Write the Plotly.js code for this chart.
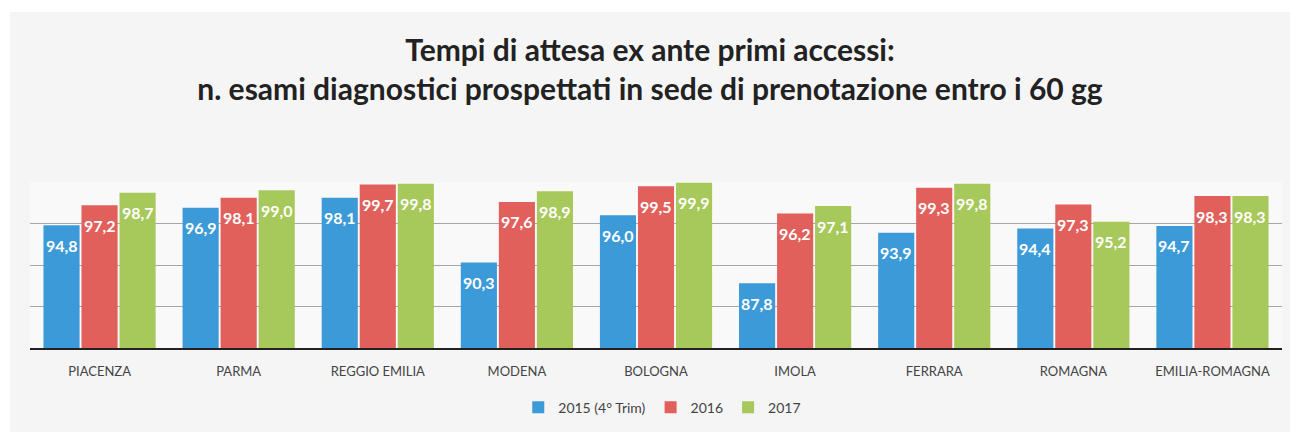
<!DOCTYPE html>
<html>
<head>
<meta charset="utf-8">
<script src="https://cdn.plot.ly/plotly-3.0.1.min.js"></script>
<style>
  html, body { margin: 0; padding: 0; background: #ffffff; width: 1290px; height: 432px; overflow: hidden; }
  #chart { position: absolute; left: 10px; top: 12px; width: 1280px; height: 420px; }
</style>
</head>
<body>
<div id="chart"></div>
<script>
const categories = ["PIACENZA", "PARMA", "REGGIO EMILIA", "MODENA", "BOLOGNA", "IMOLA", "FERRARA", "ROMAGNA", "EMILIA-ROMAGNA"];
const seriesNames = ["2015 (4° Trim)", "2016", "2017"];
const values2015 = [94.8, 96.9, 98.1, 90.3, 96.0, 87.8, 93.9, 94.4, 94.7];
const values2016 = [97.2, 98.1, 99.7, 97.6, 99.5, 96.2, 99.3, 97.3, 98.3];
const values2017 = [98.7, 99.0, 99.8, 98.9, 99.9, 97.1, 99.8, 95.2, 98.3];
const colors = ["#3d9ad8", "#e1605b", "#a7c85a"];
const allSeries = [values2015, values2016, values2017];

const bargap = 0.18;
const traces = allSeries.map((vals, k) => ({
  type: "bar",
  name: seriesNames[k],
  x: categories,
  y: vals,
  marker: { color: colors[k], line: { width: 0 } },
  hoverinfo: "x+y+name"
}));

const fmt = v => v.toFixed(1).replace(".", ",");
const slot = (1 - bargap) / 3;
const annotations = [];
allSeries.forEach((vals, k) => {
  vals.forEach((v, i) => {
    annotations.push({
      x: i + (k - 1) * slot,
      y: v,
      xref: "x",
      yref: "y",
      text: fmt(v),
      showarrow: false,
      yshift: -20,
      yanchor: "middle",
      xanchor: "center",
      font: { family: "Lato, 'Open Sans', sans-serif", size: 16, color: "#ffffff", weight: 700 }
    });
  });
});

const layout = {
  width: 1280,
  height: 420,
  margin: { l: 20, r: 8, t: 170, b: 82 },
  paper_bgcolor: "#f5f5f5",
  plot_bgcolor: "#f9f9f9",
  title: {
    text: "Tempi di attesa ex ante primi accessi:<br>n. esami diagnostici prospettati in sede di prenotazione entro i 60 gg",
    font: { family: "Lato, 'Open Sans', sans-serif", size: 30, color: "#222222", weight: 700 },
    x: 0.5,
    xref: "container",
    xanchor: "center",
    y: 0.884,
    yref: "container",
    yanchor: "middle"
  },
  barmode: "group",
  bargap: bargap,
  bargroupgap: 0.05,
  xaxis: {
    type: "category",
    showline: true,
    linecolor: "#222222",
    linewidth: 2,
    ticks: "",
    showgrid: false,
    tickfont: { family: "Lato, 'Open Sans', sans-serif", size: 13, color: "#444444" },
    ticklabelstandoff: 10,
    fixedrange: true
  },
  yaxis: {
    range: [80, 100],
    dtick: 5,
    showticklabels: false,
    showgrid: true,
    gridcolor: "#a6a6a6",
    gridwidth: 1,
    zeroline: false,
    showline: false,
    fixedrange: true
  },
  showlegend: true,
  legend: {
    orientation: "h",
    x: 0.505,
    xanchor: "center",
    y: -0.36,
    yanchor: "middle",
    font: { family: "Lato, 'Open Sans', sans-serif", size: 14, color: "#444444" },
    bgcolor: "rgba(0,0,0,0)"
  },
  annotations: annotations
};

Plotly.newPlot("chart", traces, layout, { displayModeBar: false, staticPlot: true });
</script>
</body>
</html>
